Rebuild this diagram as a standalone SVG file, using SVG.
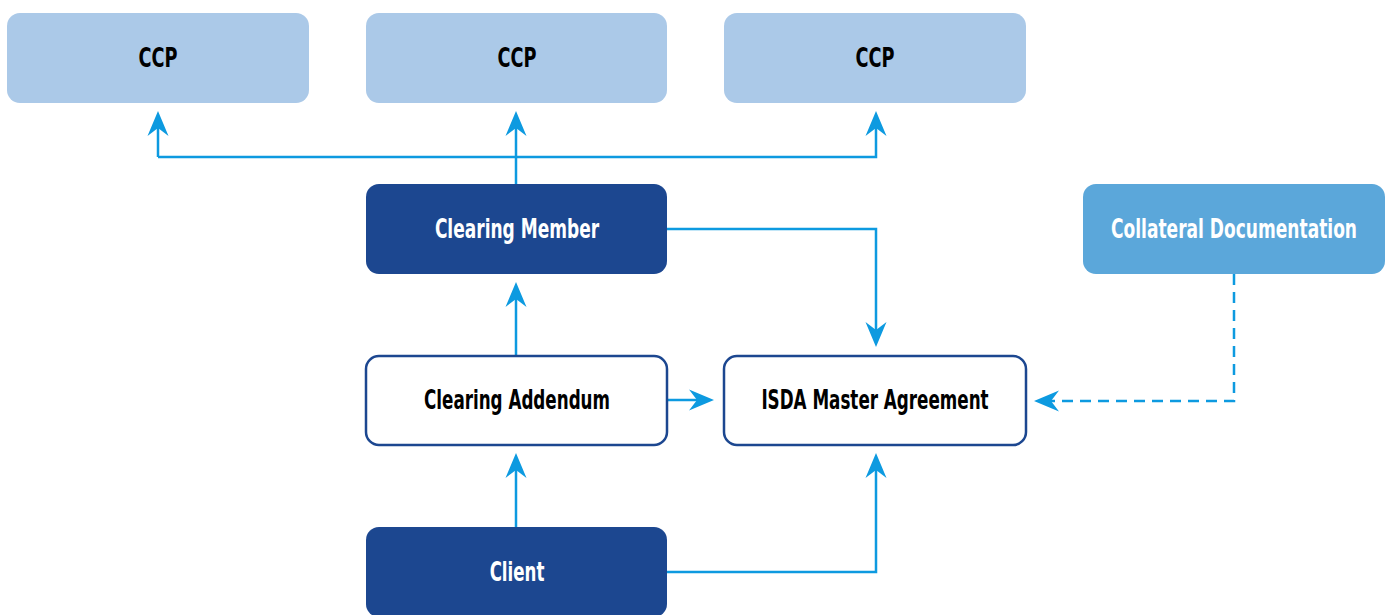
<svg xmlns="http://www.w3.org/2000/svg" width="1391" height="615" viewBox="0 0 1391 615">
  <style>
    .lbl { font-family: "DejaVu Sans Condensed", "Liberation Sans", sans-serif; font-weight: bold; font-size: 26px; text-anchor: middle; }
    .dark { fill: #000000; }
    .light { fill: #ffffff; }
    .ccp { fill: #abc9e8; }
    .solid { fill: #1c4790; }
    .coll { fill: #5ba7da; }
    .outline { fill: #ffffff; stroke: #1c4790; stroke-width: 2.5; }
    .conn { fill: none; stroke: #0d9ae0; stroke-width: 2.5; marker-end: url(#arrow); }
    .dashed { stroke-dasharray: 11 7; }
  </style>
  <defs>
    <marker id="arrow" markerUnits="userSpaceOnUse" viewBox="-26 -11 27 22" markerWidth="27" markerHeight="22" refX="-17" refY="0" orient="auto">
      <path d="M0,0 L-25,-10.5 L-17,0 L-25,10.5 Z" fill="#0d9ae0"/>
    </marker>
  </defs>
  <rect width="1391" height="615" fill="#ffffff"/>

  <g id="connectors">
    <path class="conn" d="M158,157 L158,128"/>
    <path class="conn" d="M158,157 L876,157 L876,128"/>
    <path class="conn" d="M516,184 L516,128"/>
    <path class="conn" d="M667,229 L876,229 L876,330"/>
    <path class="conn" d="M516,355 L516,299"/>
    <path class="conn" d="M667,400 L697,400"/>
    <path class="conn" d="M516,527 L516,470"/>
    <path class="conn" d="M667,572 L876,572 L876,470"/>
    <path class="conn dashed" d="M1234,274 L1234,401 L1051,401"/>
  </g>

  <g id="ccp1">
    <rect class="ccp" x="7" y="13" width="302" height="90" rx="13"/>
    <text class="lbl dark" transform="translate(158,67) scale(0.75,1)" x="0" y="0" textLength="52" lengthAdjust="spacingAndGlyphs">CCP</text>
  </g>
  <g id="ccp2">
    <rect class="ccp" x="366" y="13" width="301" height="90" rx="13"/>
    <text class="lbl dark" transform="translate(517,67) scale(0.75,1)" x="0" y="0" textLength="52" lengthAdjust="spacingAndGlyphs">CCP</text>
  </g>
  <g id="ccp3">
    <rect class="ccp" x="724" y="13" width="302" height="90" rx="13"/>
    <text class="lbl dark" transform="translate(875,67) scale(0.75,1)" x="0" y="0" textLength="52" lengthAdjust="spacingAndGlyphs">CCP</text>
  </g>
  <g id="clearing-member">
    <rect class="solid" x="366" y="184" width="301" height="90" rx="13"/>
    <text class="lbl light" transform="translate(517,238) scale(0.75,1)" x="0" y="0" textLength="219" lengthAdjust="spacingAndGlyphs">Clearing Member</text>
  </g>
  <g id="collateral-documentation">
    <rect class="coll" x="1083" y="184" width="302" height="90" rx="13"/>
    <text class="lbl light" transform="translate(1234,238) scale(0.75,1)" x="0" y="0" textLength="328" lengthAdjust="spacingAndGlyphs">Collateral Documentation</text>
  </g>
  <g id="clearing-addendum">
    <rect class="outline" x="366" y="356" width="301" height="89" rx="13"/>
    <text class="lbl dark" transform="translate(517,409) scale(0.75,1)" x="0" y="0" textLength="248" lengthAdjust="spacingAndGlyphs">Clearing Addendum</text>
  </g>
  <g id="isda-master-agreement">
    <rect class="outline" x="724" y="356" width="302" height="89" rx="13"/>
    <text class="lbl dark" transform="translate(875,409) scale(0.75,1)" x="0" y="0" textLength="303" lengthAdjust="spacingAndGlyphs">ISDA Master Agreement</text>
  </g>
  <g id="client">
    <rect class="solid" x="366" y="527" width="301" height="90" rx="13"/>
    <text class="lbl light" transform="translate(517,581) scale(0.75,1)" x="0" y="0" textLength="73" lengthAdjust="spacingAndGlyphs">Client</text>
  </g>
</svg>
